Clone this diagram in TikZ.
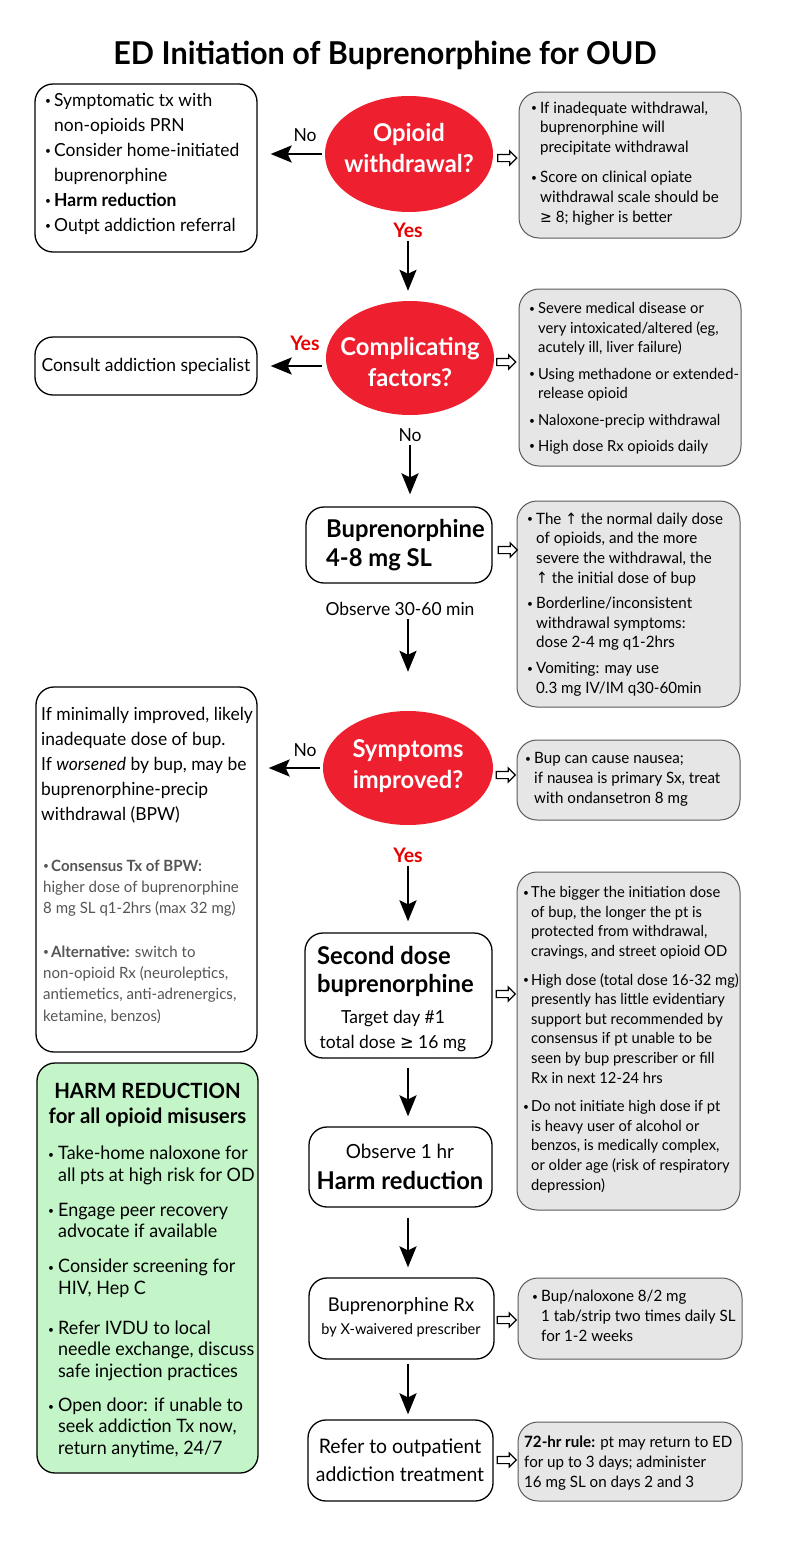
\documentclass[tikz,border=0pt]{standalone}
\usepackage{fontspec}
\setmainfont{Lato}[FakeStretch=0.97]
\newfontfamily\sym{DejaVu Sans}[FakeStretch=0.9]
\usetikzlibrary{shapes.geometric,shapes.arrows,arrows.meta}
\definecolor{dred}{RGB}{238,31,46}
\definecolor{yred}{RGB}{232,0,0}
\definecolor{gfill}{RGB}{230,230,230}
\definecolor{gline}{RGB}{90,90,90}
\definecolor{grfill}{RGB}{195,245,200}
\definecolor{gtext}{RGB}{85,85,85}
\newcommand\fs[2]{\fontsize{#1}{#2}\selectfont}
\newcommand\bu[1][9pt]{\makebox[#1][l]{\raisebox{1.4pt}{\fontsize{10.5}{10.5}\selectfont\textbullet}}}
\newcommand\ci[1][9pt]{\hspace*{#1}}
\begin{document}
\begin{tikzpicture}[x=1pt,y=-1pt,
 box/.style={draw, line width=1.3pt, rounded corners=18pt, fill=white, inner sep=0pt},
 gbox/.style={draw=gline, line width=1pt, rounded corners=20pt, fill=gfill, inner sep=0pt},
 dec/.style={ellipse, fill=dred, inner sep=0pt},
 dtxt/.style={text=white, font=\fs{24.5}{31}\bfseries, align=center, inner sep=0pt},
 arr/.style={line width=2.4pt, -{Stealth[length=21pt,width=17pt,inset=4pt]}},
 hol/.style={single arrow, draw, line width=1.2pt, fill=white, minimum height=19pt, inner xsep=0pt, inner ysep=3pt, single arrow head extend=3.5pt, single arrow head indent=0pt},
 txt/.style={align=left, inner sep=0pt, anchor=base west},
 ctxt/.style={align=center, inner sep=0pt, anchor=base},
 lab/.style={inner sep=1pt, font=\fs{18}{22}},
 ylab/.style={inner sep=1pt, font=\fs{20}{24}\bfseries, text=yred},
 rt/.style={txt, font=\fs{15.6}{19.6}},
 rts/.style={txt, font=\fs{15.2}{19.6}},
 head/.style={font=\fs{24.5}{28}\bfseries}
]
\fill[white] (0,0) rectangle (800,1553);
\useasboundingbox (0,0) rectangle (800,1553);

% title
\node[inner sep=0pt, font=\fs{31.5}{36}\bfseries] (title) at (385,55) {ED Initiation of Buprenorphine for OUD};

% ---- boxes ----
\node[box, minimum width=222pt, minimum height=168pt] (A) at (146,168) {};
\node[gbox, minimum width=222pt, minimum height=146pt] (R1) at (630,165) {};
\node[dec, minimum width=168pt, minimum height=116pt] (E1) at (409,154) {};

\node[box, minimum width=222pt, minimum height=58pt, font=\fs{18}{22}] (C) at (146,366) {Consult addiction specialist};
\node[dec, minimum width=168pt, minimum height=114pt] (E2) at (410,358) {};
\node[gbox, minimum width=222pt, minimum height=177pt] (R2) at (630,377.5) {};

\node[box, minimum width=186pt, minimum height=76pt] (B1) at (399,545) {};
\node[gbox, minimum width=223pt, minimum height=206pt] (R3) at (628.5,604) {};

\node[dec, minimum width=170pt, minimum height=114pt] (E3) at (408,768) {};
\node[box, minimum width=221pt, minimum height=365pt] (L4) at (146.5,869.5) {};
\node[gbox, minimum width=223pt, minimum height=80pt] (R4) at (628.5,780) {};

\node[box, minimum width=187pt, minimum height=125pt] (SD) at (398.5,995.5) {};
\node[gbox, minimum width=223pt, minimum height=338pt] (R5) at (628.5,1041) {};

\node[box, minimum width=183pt, minimum height=80pt] (OB) at (400.5,1167) {};
\node[box, minimum width=185pt, minimum height=81pt] (RX) at (401.5,1318.5) {};
\node[gbox, minimum width=224pt, minimum height=81pt] (R6) at (630,1318.5) {};
\node[box, minimum width=185pt, minimum height=81pt] (RF) at (400.5,1460.5) {};
\node[gbox, minimum width=224pt, minimum height=79pt] (R7) at (630,1461.5) {};

\node[box, fill=grfill, minimum width=221pt, minimum height=410pt] (G) at (147.5,1268) {};

% ---- decision texts ----
\node[dtxt] (tE1) at (409,148) {Opioid\\withdrawal?};
\node[dtxt] (tE2) at (410,362) {Complicating\\factors?};
\node[dtxt] (tE3) at (408,766) {Symptoms\\improved?};

% ---- labels ----
\node[lab] (no1) at (305,135) {No};
\node[ylab] (yes1) at (408,230) {Yes};
\node[ylab] (yes2) at (305,343) {Yes};
\node[lab] (no2) at (410,435) {No};
\node[lab] (obs) at (400,609) {Observe 30-60 min};
\node[lab] (no3) at (305,750) {No};
\node[ylab] (yes3) at (408,855) {Yes};

% ---- texts (anchored at the baseline of their last line) ----
\node[txt, font=\fs{18}{25}] (tA) at (45,231) {\bu Symptomatic tx with\\ \ci non-opioids PRN\\ \bu Consider home-initiated\\ \ci buprenorphine\\ \bu\textbf{Harm reduction}\\ \bu Outpt addiction referral};

\node[rt] (t1) at (531,222) {\bu If inadequate withdrawal,\\ \ci buprenorphine will\\ \ci precipitate withdrawal\\[11pt] \bu Score on clinical opiate\\ \ci withdrawal scale should be\\ \ci {\sym ≥} 8; higher is better};

\node[rts] (t2) at (529,451) {\bu Severe medical disease or\\ \ci very intoxicated/altered (eg,\\ \ci acutely ill, liver failure)\\[7pt] \bu Using methadone or extended-\\ \ci release opioid\\[7pt] \bu Naloxone-precip withdrawal\\[6pt] \bu High dose Rx opioids daily};

\node[txt, font=\fs{24.5}{29}\bfseries] (tB1) at (326,566) {Buprenorphine\\4-8 mg SL};

\node[rt] (t3) at (527,693) {\bu The {\sym ↑} the normal daily dose\\ \ci of opioids, and the more\\ \ci severe the withdrawal, the\\ \ci {\sym ↑} the initial dose of bup\\[6pt] \bu Borderline/inconsistent\\ \ci withdrawal symptoms:\\ \ci dose 2-4 mg q1-2hrs\\[6pt] \bu Vomiting: may use\\ \ci 0.3 mg IV/IM q30-60min};

\node[txt, font=\fs{18}{25}] (tL4a) at (41,820) {If minimally improved, likely\\ inadequate dose of bup.\\ If \textit{worsened} by bup, may be\\ buprenorphine-precip\\ withdrawal (BPW)};
\node[txt, font=\fs{15.5}{21.3}, text=gtext] (tL4b) at (43,1021) {\bu[8pt]\textbf{Consensus Tx of BPW:}\\ higher dose of buprenorphine\\ 8 mg SL q1-2hrs (max 32 mg)\\[22pt] \bu[8pt]\textbf{Alternative:} switch to\\ non-opioid Rx (neuroleptics,\\ antiemetics, anti-adrenergics,\\ ketamine, benzos)};

\node[rt] (t4) at (525,803) {\bu Bup can cause nausea;\\ \ci if nausea is primary Sx, treat\\ \ci with ondansetron 8 mg};

\node[txt, head] (tSDa) at (317,992) {Second dose\\buprenorphine};
\node[ctxt, font=\fs{18}{25}] (tSDb) at (393,1048) {Target day \#1\\ total dose {\sym ≥} 16 mg};

\node[rts] (t5) at (523,1190) {\bu[8pt]The bigger the initiation dose\\ \ci[8pt]of bup, the longer the pt is\\ \ci[8pt]protected from withdrawal,\\ \ci[8pt]cravings, and street opioid OD\\[9pt] \bu[8pt]High dose (total dose 16-32 mg)\\ \ci[8pt]presently has little evidentiary\\ \ci[8pt]support but recommended by\\ \ci[8pt]consensus if pt unable to be\\ \ci[8pt]seen by bup prescriber or fill\\ \ci[8pt]Rx in next 12-24 hrs\\[9pt] \bu[8pt]Do not initiate high dose if pt\\ \ci[8pt]is heavy user of alcohol or\\ \ci[8pt]benzos, is medically complex,\\ \ci[8pt]or older age (risk of respiratory\\ \ci[8pt]depression)};

\node[ctxt, font=\fs{19.5}{24}] (tOBa) at (400,1158) {Observe 1 hr};
\node[ctxt, head] (tOBb) at (400,1189) {Harm reduction};

\node[ctxt, font=\fs{19}{23}] (tRXa) at (401,1311) {Buprenorphine Rx};
\node[ctxt, font=\fs{15}{18}] (tRXb) at (401,1334) {by X-waivered prescriber};
\node[rt] (t6) at (532,1341) {\bu Bup/naloxone 8/2 mg\\ \ci 1 tab/strip two times daily SL\\ \ci for 1-2 weeks};

\node[ctxt, font=\fs{20}{28}] (tRF) at (400,1481) {Refer to outpatient\\ addiction treatment};
\node[rt] (t7) at (524,1487) {\textbf{72-hr rule:} pt may return to ED\\ for up to 3 days; administer\\ 16 mg SL on days 2 and 3};

\node[ctxt, font=\fs{21}{25}\bfseries] (tGa) at (147.5,1123) {HARM REDUCTION\\ for all opioid misusers};
\node[txt, font=\fs{18.5}{21.3}] (tGb) at (48,1454) {\bu[10pt]Take-home naloxone for\\ \ci[10pt]all pts at high risk for OD\\[14pt] \bu[10pt]Engage peer recovery\\ \ci[10pt]advocate if available\\[14pt] \bu[10pt]Consider screening for\\ \ci[10pt]HIV, Hep C\\[19pt] \bu[10pt]Refer IVDU to local\\ \ci[10pt]needle exchange, discuss\\ \ci[10pt]safe injection practices\\[13pt] \bu[10pt]Open door: if unable to\\ \ci[10pt]seek addiction Tx now,\\ \ci[10pt]return anytime, 24/7};

% ---- connectors ----
\draw[arr, shorten <=3pt, shorten >=13pt] (E1.west) -- (E1.west -| A.east);
\draw[arr, shorten <=2pt, shorten >=10pt] (yes1.south) -- (yes1.south |- E2.north);
\draw[arr, shorten <=4pt, shorten >=13pt] (E2.west |- C.east) -- (C.east);
\draw[arr, shorten <=2pt, shorten >=12pt] (no2.south) -- (no2.south |- B1.north);
\draw[arr, shorten <=2pt, shorten >=39pt] (obs.south -| E3.north) -- (E3.north);
\draw[arr, shorten <=3pt, shorten >=11pt] (E3.west) -- (E3.west -| L4.east);
\draw[arr, shorten <=2pt, shorten >=11pt] (yes3.south) -- (yes3.south |- SD.north);
\draw[arr, shorten <=9pt, shorten >=10pt] (SD.south -| yes3) -- (OB.north -| yes3);
\draw[arr, shorten <=10pt, shorten >=10pt] (OB.south -| yes3) -- (RX.north -| yes3);
\draw[arr, shorten <=4pt, shorten >=5pt] (RX.south -| yes3) -- (RF.north -| yes3);

% hollow arrows
\node[hol] (h1) at (505.5,158) {};
\node[hol] (h2) at (504.5,362) {};
\node[hol] (h3) at (506,550) {};
\node[hol] (h4) at (504,775) {};
\node[hol] (h5) at (504,994) {};
\node[hol] (h6) at (505,1320) {};
\node[hol] (h7) at (505,1460) {};
\end{tikzpicture}
\end{document}
